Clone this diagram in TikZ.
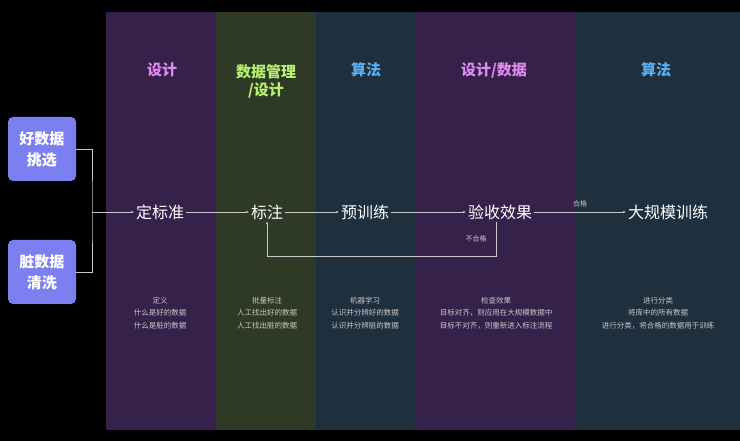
\documentclass[tikz,border=0pt]{standalone}
\usepackage{fontspec}
\setmainfont{Noto Sans CJK SC}
\usetikzlibrary{positioning,arrows.meta}
\definecolor{colpurple}{HTML}{35214A}
\definecolor{colgreen}{HTML}{2E3A26}
\definecolor{colblue}{HTML}{1E2F3E}
\definecolor{headpink}{HTML}{E08AF0}
\definecolor{headgreen}{HTML}{B8F070}
\definecolor{headblue}{HTML}{5AB0F0}
\definecolor{boxblue}{HTML}{7B7FF0}
\definecolor{linegray}{HTML}{C8C8C8}

\begin{document}
\begin{tikzpicture}[x=1pt,y=-1pt,
  head/.style={font=\fontsize{15}{18}\selectfont\bfseries, align=center},
  stage/.style={text=white, font=\fontsize{16}{19}\selectfont, inner sep=2pt},
  desc/.style={text=linegray, font=\fontsize{7.5}{12.5}\selectfont, align=center},
  pick/.style={fill=boxblue, rounded corners=5pt, text=white, minimum width=68pt,
    minimum height=64pt, align=center, font=\fontsize{15}{21}\selectfont\bfseries},
  line/.style={draw=linegray, -{Stealth[length=3pt]}},
  tag/.style={text=linegray, font=\fontsize{7}{8}\selectfont}
  ]
  \fill[black] (0,0) rectangle (740,441);
  \fill[colpurple] (106,12) rectangle (216,430);
  \fill[colgreen] (216,12) rectangle (316,430);
  \fill[colblue] (316,12) rectangle (416,430);
  \fill[colpurple] (416,12) rectangle (576,430);
  \fill[colblue] (576,12) rectangle (740,430);
  % column heads
  \node[head, text=headpink] at (162,70) {设计};
  \node[head, text=headgreen] at (266,81) {数据管理\\/设计};
  \node[head, text=headblue] at (366,70) {算法};
  \node[head, text=headpink] at (494,70) {设计/数据};
  \node[head, text=headblue] at (656,70) {算法};
  % sources
  \node[pick] (good) at (42,149) {好数据\\挑选};
  \node[pick] (dirty) at (42,272) {脏数据\\清洗};
  % stages
  \node[stage] (std) at (160,212) {定标准};
  \node[stage] (label) at (267,212) {标注};
  \node[stage] (pre) at (365,212) {预训练};
  \node[stage] (check) at (500,212) {验收效果};
  \node[stage] (train) at (668,212) {大规模训练};
  \coordinate (join) at (92,212);
  \draw[draw=linegray] (good.east) -| (join) |- (dirty.east);
  \draw[line] (join) -- (std);
  \draw[line] (std) -- (label);
  \draw[line] (label) -- (pre);
  \draw[line] (pre) -- (check);
  \draw[line] (check) -- node[tag, above=1pt] {合格} (train);
  \draw[line] (check.south -| 496,0) -- (496,256) -| (label.south);
  \node[tag] at (476,239) {不合格};
  % descriptions
  \node[desc] at (160,313) {定义\\什么是好的数据\\什么是脏的数据};
  \node[desc] at (267,313) {批量标注\\人工找出好的数据\\人工找出脏的数据};
  \node[desc] at (365,313) {机器学习\\认识并分辨好的数据\\认识并分辨脏的数据};
  \node[desc] at (496,313) {检查效果\\目标对齐，则应用在大规模数据中\\目标不对齐，则重新进入标注流程};
  \node[desc] at (658,313) {进行分类\\将库中的所有数据\\进行分类，将合格的数据用于训练};
\end{tikzpicture}
\end{document}
